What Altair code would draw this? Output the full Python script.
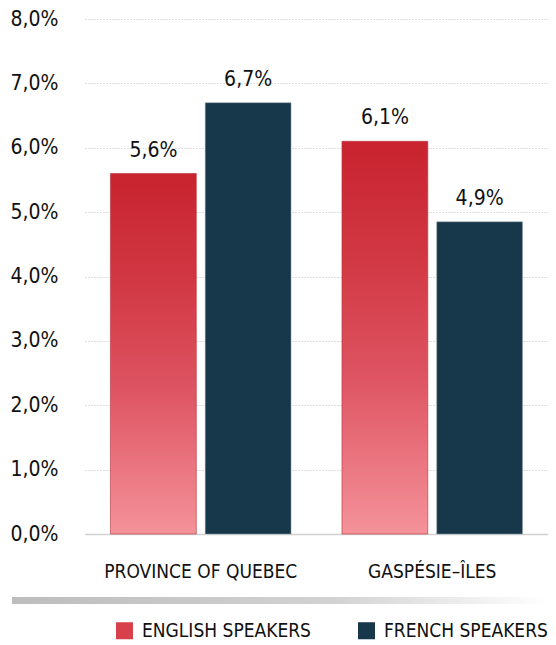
import altair as alt
import pandas as pd

regions = ["PROVINCE OF QUEBEC", "GASPÉSIE–ÎLES"]
series = ["ENGLISH SPEAKERS", "FRENCH SPEAKERS"]
english = [5.6, 6.1]
french = [6.7, 4.85]
french_labels = ["6,7%", "4,9%"]
english_labels = ["5,6%", "6,1%"]
y_ticks = [0, 1, 2, 3, 4, 5, 6, 7, 8]

FONT = "'DejaVu Sans Condensed', 'Liberation Sans Narrow', 'Roboto Condensed', sans-serif"

rows = []
for i, r in enumerate(regions):
    rows.append({"region": r, "lang": series[0], "value": english[i], "label": english_labels[i]})
    rows.append({"region": r, "lang": series[1], "value": french[i], "label": french_labels[i]})
df = pd.DataFrame(rows)

W, H = 463, 515

x_enc = alt.X("region:N", sort=regions, title=None,
              scale=alt.Scale(paddingInner=0.22, paddingOuter=0.11),
              axis=alt.Axis(labelFont=FONT, labelFontSize=19, labelColor="#111",
                            labelPadding=28, ticks=False, domain=True, labelLimit=0,
                            grid=False,
                            domainColor="#d0d0d0", domainWidth=1.5, labelAngle=0))
xoff = alt.XOffset("lang:N", sort=series,
                   scale=alt.Scale(paddingInner=0.094, paddingOuter=0))
y_enc = alt.Y("value:Q", title=None,
              scale=alt.Scale(domain=[0, 8], nice=False),
              axis=alt.Axis(values=y_ticks,
                            labelExpr="replace(format(datum.value, '.1f'), '.', ',') + '%'",
                            labelFont=FONT, labelFontSize=21, labelColor="#111",
                            labelPadding=27, ticks=False, domain=False,
                            grid=True, gridColor="#bdbdbd", gridDash=[1, 2],
                            gridWidth=1, minExtent=77, maxExtent=77))

base = alt.Chart(df).encode(x=x_enc, xOffset=xoff, y=y_enc)

red_grad = alt.Gradient(
    gradient="linear", x1=0, y1=0, x2=0, y2=1,
    stops=[alt.GradientStop(color="#c8232f", offset=0),
           alt.GradientStop(color="#d13843", offset=0.3),
           alt.GradientStop(color="#de5462", offset=0.6),
           alt.GradientStop(color="#f4929a", offset=1)])

english_bars = base.transform_filter(alt.datum.lang == series[0]).mark_bar(
    fill=red_grad, stroke="#b8323c", strokeWidth=1, strokeOpacity=0.6)

french_bars = base.transform_filter(alt.datum.lang == series[1]).mark_bar(
    stroke="#9aa7ad", strokeWidth=0.5).encode(
    color=alt.Color("lang:N",
                    scale=alt.Scale(domain=series, range=["#d8404c", "#17384a"]),
                    legend=alt.Legend(title=None, orient="none", legendX=30, legendY=602,
                                      direction="horizontal", symbolType="square",
                                      symbolSize=290, symbolStrokeWidth=0,
                                      labelFont=FONT, labelFontSize=19, labelLimit=0,
                                      labelColor="#111", columnPadding=46,
                                      labelOffset=8)))

labels = base.mark_text(font=FONT, fontSize=21, color="#111", dy=-13,
                        baseline="bottom").encode(text="label:N")

band = alt.Chart(pd.DataFrame({"a": [0]})).mark_rect(
    fill=alt.Gradient(gradient="linear", x1=0, y1=0, x2=1, y2=0,
                      stops=[alt.GradientStop(color="#bdbdbd", offset=0),
                             alt.GradientStop(color="#d2d2d2", offset=0.6),
                             alt.GradientStop(color="#ffffff", offset=1)])
).encode(x=alt.value(-73), x2=alt.value(W), y=alt.value(578), y2=alt.value(585))

chart = alt.layer(band, english_bars, french_bars, labels).properties(
    width=W, height=H, background="white",
    padding={"left": 0, "top": 0, "right": 0, "bottom": 0}
).configure_view(stroke=None)

chart.save("out.html", embed_options={"renderer": "svg", "actions": False})
